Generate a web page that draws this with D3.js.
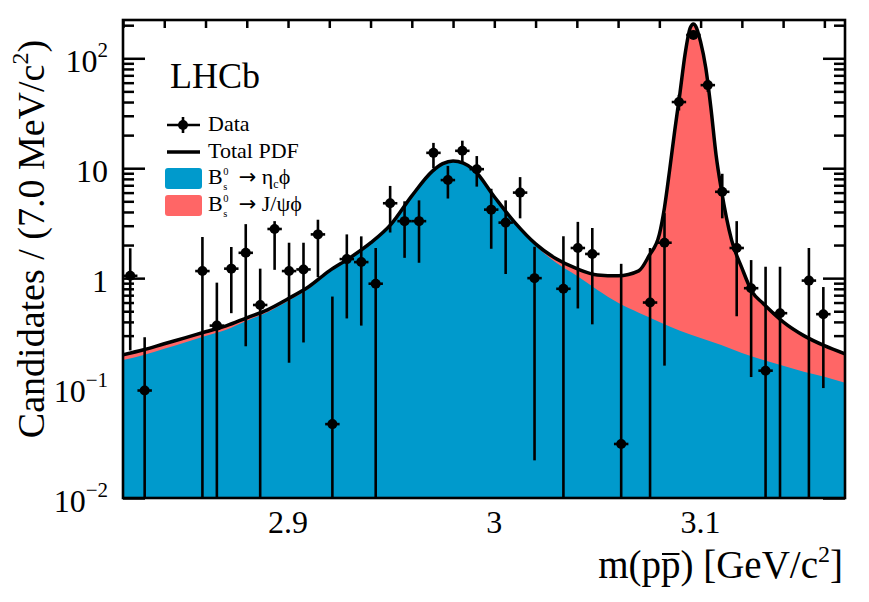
<!DOCTYPE html>
<html>
<head>
<meta charset="utf-8">
<script src="https://cdn.jsdelivr.net/npm/d3@7"></script>
<style>
  body { margin: 0; background: #fff; }
  text { font-family: "Liberation Serif", "Times New Roman", serif; fill: #000; }
</style>
</head>
<body>
<div class="chart"></div>
<script>
// Data points (bin centres of 7 MeV bins, empty bins left out)
var massBins = [2.8235, 2.8305, 2.8585, 2.8655, 2.8725, 2.8795, 2.8865, 2.8935, 2.9005, 2.9075,
  2.9145, 2.9215, 2.9285, 2.9355, 2.9425, 2.9495, 2.9565, 2.9635, 2.9705, 2.9775,
  2.9845, 2.9915, 2.9985, 3.0055, 3.0125, 3.0195, 3.0335, 3.0405, 3.0475, 3.0615,
  3.0755, 3.0825, 3.0895, 3.0965, 3.1035, 3.1105, 3.1175, 3.1245, 3.1315, 3.1385,
  3.1525, 3.1595];
var candidates = [1.05, 0.095, 1.16, 0.37, 1.22, 1.7, 0.57, 2.8, 1.16, 1.2,
  2.5, 0.047, 1.49, 1.4, 0.89, 4.8, 3.3, 3.3, 13.8, 7.8,
  14.4, 9.8, 4.2, 3.2, 6.0, 1.0, 0.80, 1.88, 1.66, 0.031,
  0.60, 2.1, 40, 163, 57, 6.1, 1.88, 0.81, 0.144, 0.48,
  0.95, 0.47];
// lower / upper ends of the error bars (0 = runs off the bottom of the plot)
var errLow = [0.22, 0, 0, 0, 0.48, 0.24, 0, 1.19, 0.17, 0.26,
  1.02, 0, 0.43, 0.37, 0, 2.6, 1.53, 1.38, 10, 5.3,
  11.2, 6.8, 1.85, 1.09, 3.5, 0.022, 0, 0.53, 0.38, 0,
  0, 0.16, 33.5, 150, 49.5, 3.5, 0.45, 0.126, 0, 0,
  0, 0.1];
var errHigh = [1.87, 0.29, 2.37, 0.91, 1.92, 3.1, 1.22, 3.3, 2.1, 2.1,
  3.4, 0.68, 2.5, 2.4, 1.88, 6.9, 5.0, 5.1, 17, 10.5,
  17.8, 12.9, 6.5, 5.1, 8.3, 1.93, 2.4, 3.25, 2.86, 1.35,
  1.88, 3.9, 46.5, 176, 64.5, 8.9, 3.3, 1.46, 1.27, 1.27,
  1.88, 0.83];

// Total PDF curve
var totalMass = [2.82, 2.83, 2.84, 2.85, 2.86, 2.87, 2.88, 2.89, 2.90, 2.91,
  2.92, 2.93, 2.94, 2.95, 2.96, 2.97, 2.975, 2.98, 2.985, 2.99, 3.00, 3.01,
  3.02, 3.03, 3.04, 3.05, 3.06, 3.07, 3.075, 3.08, 3.0825, 3.085,
  3.0875, 3.09, 3.0925, 3.095, 3.0965, 3.0975, 3.10, 3.1025, 3.105, 3.1075,
  3.11, 3.115, 3.12, 3.125, 3.13, 3.14, 3.15, 3.16, 3.17];
var totalPdf = [0.201, 0.223, 0.253, 0.286, 0.325, 0.368, 0.436, 0.515, 0.649, 0.834,
  1.165, 1.53, 2.09, 3.1, 5.6, 9.4, 11.0, 11.65, 11.1, 9.7, 5.5, 3.2,
  2.05, 1.50, 1.22, 1.07, 1.05, 1.165, 1.6, 2.5, 4.4, 9.66,
  22.3, 48.4, 110, 190, 205, 198, 141, 82, 35.3, 13.2,
  6.48, 2.23, 1.24, 0.75, 0.596, 0.40, 0.30, 0.243, 0.205];

// Bs -> eta_c phi component
var etacMass = [2.82, 2.83, 2.84, 2.85, 2.86, 2.87, 2.88, 2.89, 2.90, 2.91,
  2.92, 2.93, 2.94, 2.95, 2.96, 2.97, 2.975, 2.98, 2.985, 2.99, 3.00, 3.01,
  3.02, 3.03, 3.04, 3.05, 3.06, 3.07, 3.08, 3.09, 3.10, 3.11,
  3.12, 3.13, 3.14, 3.15, 3.16, 3.17];
var etacPdf = [0.18, 0.20, 0.228, 0.26, 0.298, 0.34, 0.41, 0.49, 0.62, 0.80,
  1.13, 1.49, 2.05, 3.05, 5.55, 9.35, 10.95, 11.6, 11.05, 9.65, 5.44, 3.12,
  1.97, 1.38, 1.05, 0.78, 0.596, 0.484, 0.40, 0.332, 0.286, 0.247,
  0.209, 0.181, 0.16, 0.141, 0.127, 0.112];

var xTickLabels = [2.9, 3.0, 3.1];
var yDecades = [0.01, 0.1, 1, 10, 100];
var yDecadeBase = ["10", "10", "1", "10", "10"];
var yDecadeExp = ["\u22122", "\u22121", "", "", "2"];

var binWidth = 0.007;
var blue = "#009acc";
var red = "#ff6666";

var svgWidth = 869;
var svgHeight = 602;
var margin = { top: 20, right: 24, bottom: 104, left: 123 };
var width = svgWidth - margin.left - margin.right;
var height = svgHeight - margin.top - margin.bottom;

var svg = d3.select(".chart")
  .append("svg")
  .attr("width", svgWidth)
  .attr("height", svgHeight);

var chartGroup = svg.append("g")
  .attr("transform", `translate(${margin.left}, ${margin.top})`);

var xScale = d3.scaleLinear().domain([2.82, 3.17]).range([0, width]);
var yScale = d3.scaleLog().domain([0.01, 223]).range([height, 0]);

svg.append("clipPath").attr("id", "plotClip")
  .append("rect").attr("width", width).attr("height", height);

// ticks (drawn first so the fills cover them, as in the original)
var xTicks = d3.range(2.82, 3.1701, 0.02);
chartGroup.append("g")
  .call(d3.axisBottom(xScale).tickValues(xTicks).tickSize(8).tickFormat(""))
  .call(g => g.select(".domain").remove());
chartGroup.append("g")
  .attr("transform", `translate(0, ${height})`)
  .call(d3.axisTop(xScale).tickValues(xTicks).tickSize(14).tickFormat(""))
  .call(g => g.select(".domain").remove());

var minorY = yScale.ticks().filter(v => yDecades.indexOf(v) < 0 && v <= 223);
[[d3.axisRight, 0], [d3.axisLeft, width]].forEach(function(a) {
  chartGroup.append("g")
    .attr("transform", `translate(${a[1]}, 0)`)
    .call(a[0](yScale).tickValues(yDecades).tickSize(22).tickFormat(""))
    .call(g => g.select(".domain").remove());
  chartGroup.append("g")
    .attr("transform", `translate(${a[1]}, 0)`)
    .call(a[0](yScale).tickValues(minorY).tickSize(11).tickFormat(""))
    .call(g => g.select(".domain").remove());
});
chartGroup.selectAll(".tick line").attr("stroke", "#000").attr("stroke-width", 2.5);

// fills
var plot = chartGroup.append("g").attr("clip-path", "url(#plotClip)");

var totalPts = totalMass.map((m, i) => [m, totalPdf[i]]);
var etacPts = etacMass.map((m, i) => [m, etacPdf[i]]);

var area = d3.area()
  .x(d => xScale(d[0]))
  .y0(height)
  .y1(d => yScale(d[1]))
  .curve(d3.curveMonotoneX);

plot.append("path").datum(totalPts).attr("d", area).attr("fill", red);
plot.append("path").datum(etacPts).attr("d", area).attr("fill", blue);

plot.append("path").datum(totalPts)
  .attr("d", d3.line().x(d => xScale(d[0])).y(d => yScale(d[1])).curve(d3.curveMonotoneX))
  .attr("fill", "none")
  .attr("stroke", "#000")
  .attr("stroke-width", 3.5);

// data points with error bars
var points = massBins.map((m, i) => ({ m: m, v: candidates[i], lo: errLow[i], hi: errHigh[i] }));
var pts = plot.selectAll(".pt").data(points).enter().append("g").attr("class", "pt");
pts.append("line")
  .attr("x1", d => xScale(d.m)).attr("x2", d => xScale(d.m))
  .attr("y1", d => yScale(d.hi))
  .attr("y2", d => d.lo > 0.01 ? yScale(d.lo) : height + 2)
  .attr("stroke", "#000").attr("stroke-width", 2.6);
pts.append("line")
  .attr("x1", d => xScale(d.m - binWidth / 2)).attr("x2", d => xScale(d.m + binWidth / 2))
  .attr("y1", d => yScale(d.v)).attr("y2", d => yScale(d.v))
  .attr("stroke", "#000").attr("stroke-width", 2.6);
pts.append("circle")
  .attr("cx", d => xScale(d.m)).attr("cy", d => yScale(d.v))
  .attr("r", 5).attr("fill", "#000");

// frame
chartGroup.append("rect")
  .attr("width", width).attr("height", height)
  .attr("fill", "none").attr("stroke", "#000").attr("stroke-width", 2.6);

// tick labels
chartGroup.selectAll(".xlab").data(xTickLabels).enter().append("text")
  .attr("x", d => xScale(d)).attr("y", height + 35)
  .attr("text-anchor", "middle")
  .style("font-size", "32px")
  .text(d => d3.format("")(d));

yDecades.forEach(function(v, i) {
  var t = chartGroup.append("text")
    .attr("x", -15).attr("y", yScale(v) + 14)
    .attr("text-anchor", "end")
    .style("font-size", "32px")
    .text(yDecadeBase[i]);
  if (yDecadeExp[i]) {
    t.append("tspan").attr("dy", -15).style("font-size", "21px").text(yDecadeExp[i]);
  }
});

// axis titles
var xTitle = svg.append("text")
  .attr("x", 843).attr("y", 578)
  .attr("text-anchor", "end")
  .style("font-size", "39px");
xTitle.append("tspan").text("m(pp) [GeV/c");
xTitle.append("tspan").attr("dy", -16).style("font-size", "24px").text("2");
xTitle.append("tspan").attr("dy", 16).text("]");
var xn = xTitle.node();
var s = xn.getStartPositionOfChar(3), e = xn.getEndPositionOfChar(3);
svg.append("line")
  .attr("x1", s.x + 1).attr("x2", e.x - 1)
  .attr("y1", 578 - 24).attr("y2", 578 - 24)
  .attr("stroke", "#000").attr("stroke-width", 2);

var yTitle = svg.append("text")
  .attr("transform", "translate(44, 239) rotate(-90)")
  .attr("text-anchor", "middle")
  .style("font-size", "38px");
yTitle.append("tspan").text("Candidates / (7.0 MeV/c");
yTitle.append("tspan").attr("dy", -16).style("font-size", "24px").text("2");
yTitle.append("tspan").attr("dy", 16).text(")");

// LHCb label
svg.append("text").attr("x", 170).attr("y", 88).style("font-size", "36px").text("LHCb");

// legend
var legend = svg.append("g");
legend.append("line").attr("x1", 167).attr("x2", 200).attr("y1", 125).attr("y2", 125)
  .attr("stroke", "#000").attr("stroke-width", 2.6);
legend.append("line").attr("x1", 183).attr("x2", 183).attr("y1", 117).attr("y2", 133)
  .attr("stroke", "#000").attr("stroke-width", 2.6);
legend.append("circle").attr("cx", 183).attr("cy", 125).attr("r", 5).attr("fill", "#000");
legend.append("line").attr("x1", 167).attr("x2", 200).attr("y1", 152).attr("y2", 152)
  .attr("stroke", "#000").attr("stroke-width", 3.5);
legend.append("rect").attr("x", 165).attr("y", 168).attr("width", 37).attr("height", 21)
  .attr("rx", 3).attr("fill", blue);
legend.append("rect").attr("x", 165).attr("y", 195).attr("width", 37).attr("height", 21)
  .attr("rx", 3).attr("fill", red);

legend.append("text").attr("x", 208).attr("y", 131).style("font-size", "22px").text("Data");
legend.append("text").attr("x", 208).attr("y", 158).style("font-size", "22px").text("Total PDF");

function decayLabel(y, parts) {
  // one text element: B, stacked 0/s, arrow and the final state
  var t = legend.append("text").attr("x", 208).attr("y", y).style("font-size", "22px");
  t.append("tspan").text("B");
  var w = t.node().getComputedTextLength();
  t.append("tspan").attr("x", 208 + w + 0.5).attr("dy", -9.5).style("font-size", "10.5px").text("0");
  t.append("tspan").attr("x", 208 + w + 0.5).attr("dy", 15.5).style("font-size", "10.5px").text("s");
  t.append("tspan").attr("x", 208 + w + 16).attr("dy", -6)
    .style("font-family", "DejaVu Sans").style("font-size", "21px").text("\u2192");
  parts.forEach(function(p) {
    var ts = t.append("tspan").text(p[0]);
    if (p[1]) ts.attr("dy", p[1]);
    if (p[2]) ts.style("font-size", p[2]);
  });
}
decayLabel(184, [[" \u03b7"], ["c", 4, "12px"], ["\u03d5", -4]]);
decayLabel(211, [[" J/\u03c8\u03d5"]]);
</script>
</body>
</html>
